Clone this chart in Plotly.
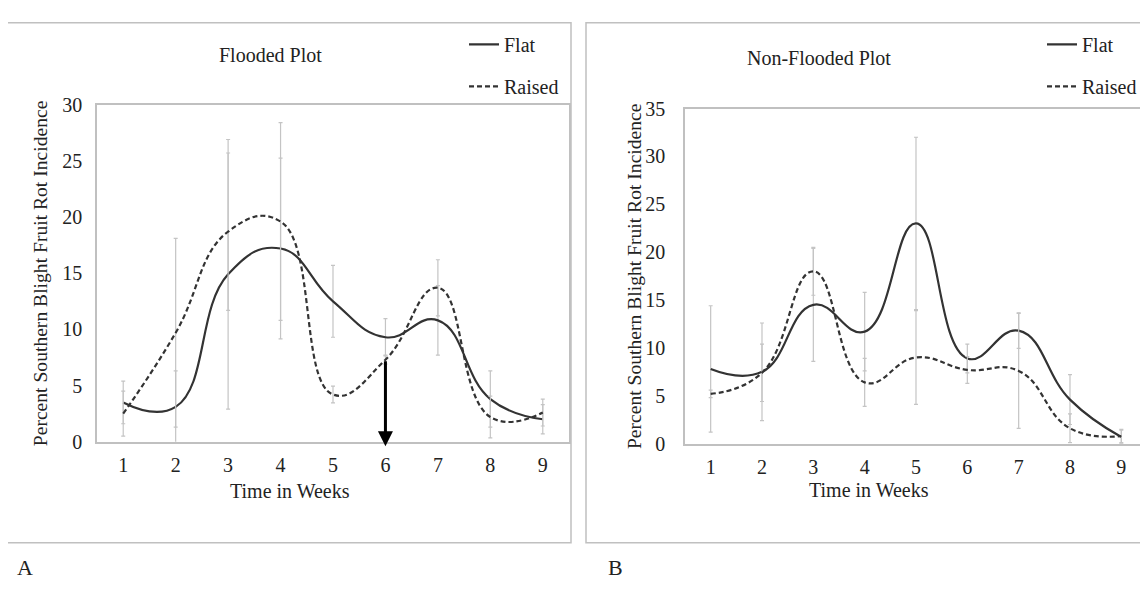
import plotly.graph_objects as go

W, H = 1148, 593
# the page body adds an 8px margin; positions below are in window pixels
OFF = 8

weeks = [1, 2, 3, 4, 5, 6, 7, 8, 9]

flooded_flat = [3.5, 3.1, 14.9, 17.2, 12.5, 9.3, 10.8, 3.8, 2.0]
flooded_flat_err = [1.9, 3.2, 12.0, 8.05, 3.2, 1.65, 3.1, 2.5, 1.3]
flooded_raised = [2.5, 9.7, 18.7, 19.6, 4.2, 7.3, 13.7, 2.2, 2.6]
flooded_raised_err = [2.0, 8.4, 7.0, 8.8, 0.75, 0.4, 2.5, 1.85, 1.2]

nonflooded_flat = [7.8, 7.5, 14.5, 11.7, 23.0, 8.9, 11.8, 4.6, 0.7]
nonflooded_flat_err = [6.6, 5.1, 5.9, 4.1, 9.0, 1.5, 1.85, 2.6, 0.7]
nonflooded_raised = [5.2, 7.4, 18.0, 6.4, 9.0, 7.7, 7.6, 1.6, 0.8]
nonflooded_raised_err = [0.4, 3.0, 2.5, 2.5, 4.9, 1.4, 6.0, 1.5, 0.7]

arrow_week = 6
arrow_top = flooded_raised[weeks.index(arrow_week)]

FONT = "Liberation Serif"
TXT = "#222222"
LINE = "#333333"
ERR = "#c4c4c4"
BOX = "#c0c0c0"


def px(x):
    return (x - OFF) / W


def py(y):
    return 1 - (y - OFF) / H


def err(vals):
    return dict(type="data", array=vals, visible=True, color=ERR, thickness=1.2, width=2)


fig = go.Figure()

series = [
    ("Flat", flooded_flat, flooded_flat_err, "solid", "x", "y", "legend", "g1"),
    ("Raised", flooded_raised, flooded_raised_err, "5px,3px", "x", "y", "legend", "g2"),
    ("Flat", nonflooded_flat, nonflooded_flat_err, "solid", "x2", "y2", "legend2", "g3"),
    ("Raised", nonflooded_raised, nonflooded_raised_err, "5px,3px", "x2", "y2", "legend2", "g4"),
]
for name, vals, errs, dash, xa, ya, lg, grp in series:
    fig.add_trace(go.Scatter(
        x=weeks, y=vals, name=name, mode="lines",
        line=dict(color=LINE, width=2.2, dash=dash, shape="spline", smoothing=1.3),
        error_y=err(errs), xaxis=xa, yaxis=ya, legend=lg, legendgroup=grp,
    ))

axis_common = dict(
    showline=True, linecolor=BOX, linewidth=1.5, mirror=True,
    showgrid=False, zeroline=False, ticks="",
    tickfont=dict(family=FONT, size=20, color=TXT),
)

legend_common = dict(
    xanchor="left", yanchor="top", bgcolor="rgba(0,0,0,0)",
    traceorder="grouped", tracegroupgap=13,
    font=dict(family=FONT, size=20, color=TXT),
)

fig.update_layout(
    width=W, height=H,
    margin=dict(l=0, r=0, t=0, b=0),
    paper_bgcolor="white", plot_bgcolor="white",
    showlegend=True,
    xaxis=dict(domain=[px(97), px(569)], range=[0.5, 9.5], tickvals=weeks,
               anchor="y", ticklabelstandoff=5, **axis_common),
    yaxis=dict(domain=[py(447), py(97)], range=[0, 30], dtick=5,
               anchor="x", ticklabelstandoff=9, **axis_common),
    xaxis2=dict(domain=[px(685), px(1147)], range=[0.5, 9.5], tickvals=weeks,
                anchor="y2", ticklabelstandoff=5, **axis_common),
    yaxis2=dict(domain=[py(449), py(101)], range=[0, 35], dtick=5,
                anchor="x2", ticklabelstandoff=14, **axis_common),
    legend=dict(x=px(464), y=py(14), **legend_common),
    legend2=dict(x=px(1042), y=py(14), **legend_common),
)

# panel frames
fig.add_shape(type="rect", xref="paper", yref="paper",
              x0=px(7), x1=px(571), y0=py(552), y1=py(12),
              line=dict(color=BOX, width=1.5), layer="below")
fig.add_shape(type="rect", xref="paper", yref="paper",
              x0=px(586), x1=px(1147), y0=py(552), y1=py(12),
              line=dict(color=BOX, width=1.5), layer="below")


def note(text, x, y, size=20, angle=0):
    fig.add_annotation(text=text, x=px(x), y=py(y), xref="paper", yref="paper",
                       showarrow=False, textangle=angle, xanchor="center", yanchor="middle",
                       font=dict(family=FONT, size=size, color=TXT))


note("Flooded Plot", 270, 45)
note("Non-Flooded Plot", 819, 49)
note("Time in Weeks", 290, 498)
note("Time in Weeks", 869, 497)
note("Percent Southern Blight Fruit Rot Incidence", 40, 272, 19.6, -90)
note("Percent Southern Blight Fruit Rot Incidence", 634, 275, 19.6, -90)
note("A", 25, 578, 22)
note("B", 615, 578, 22)

fig.add_annotation(x=arrow_week, y=-0.4, ax=arrow_week, ay=arrow_top,
                   xref="x", yref="y", axref="x", ayref="y",
                   showarrow=True, arrowhead=2, arrowsize=1, arrowwidth=3,
                   arrowcolor="black", text="")

fig.write_html("out.html")
